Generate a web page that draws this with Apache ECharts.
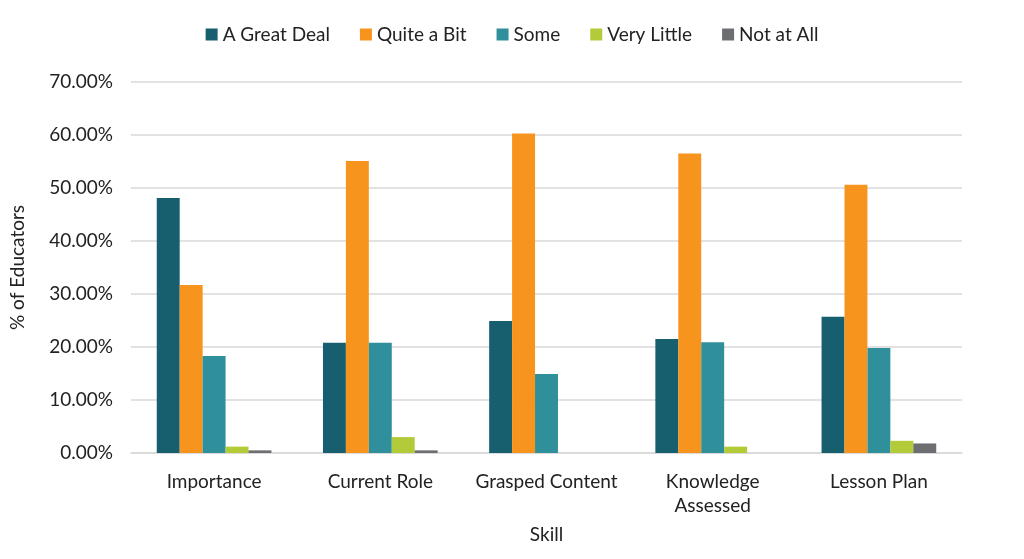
<!DOCTYPE html>
<html><head><meta charset="utf-8">
<script src="https://cdn.jsdelivr.net/npm/echarts@6/dist/echarts.min.js"></script>
<style>html,body{margin:0;padding:0;background:#fff}#c{width:1024px;height:559px}</style>
</head><body><div id="c"></div>
<script>
const categories = ['Importance','Current Role','Grasped Content','Knowledge Assessed','Lesson Plan'];
const seriesNames = ['A Great Deal','Quite a Bit','Some','Very Little','Not at All'];
const aGreatDeal = [48.1, 20.8, 24.9, 21.5, 25.7];
const quiteABit = [31.7, 55.1, 60.3, 56.5, 50.6];
const some = [18.3, 20.8, 14.9, 20.9, 19.8];
const veryLittle = [1.2, 3.0, 0, 1.2, 2.3];
const notAtAll = [0.5, 0.5, 0, 0, 1.8];
const colors = ['#175F6E','#F7941D','#2F8F9B','#B3CB38','#6D6E71'];
const font = 'Lato, "Open Sans", sans-serif';
const values = [aGreatDeal, quiteABit, some, veryLittle, notAtAll];
const chart = echarts.init(document.getElementById('c'));
chart.setOption({
  animation:false,
  color: colors,
  textStyle:{fontFamily:font},
  legend:{top:20, left:'center', itemWidth:12, itemHeight:12, itemGap:30, icon:'rect',
    textStyle:{fontSize:19, color:'#222', fontFamily:font}, data: seriesNames},
  grid:{left:131, right:62, top:82, bottom:106},
  xAxis:{type:'category', data:categories, name:'Skill', nameLocation:'middle', nameGap:72,
    nameTextStyle:{fontSize:19, color:'#222', fontFamily:font},
    axisTick:{show:false}, axisLine:{lineStyle:{color:'#d9d9d9', width:1.5}},
    axisLabel:{interval:0, fontSize:19, color:'#222', margin:17, lineHeight:24, fontFamily:font,
      formatter: v => v === 'Knowledge Assessed' ? 'Knowledge\nAssessed' : v}},
  yAxis:{type:'value', min:0, max:70, interval:10, name:'% of Educators', nameLocation:'middle', nameGap:104,
    nameTextStyle:{fontSize:19, color:'#222', fontFamily:font},
    axisLabel:{fontSize:19, color:'#222', margin:18, fontFamily:font, formatter: v => v.toFixed(2)+'%'},
    splitLine:{lineStyle:{color:'#d9d9d9', width:1.5}}, axisLine:{show:false}, axisTick:{show:false}},
  series: seriesNames.map((n,i)=>({name:n, type:'bar', data:values[i], barGap:'0%', barCategoryGap:'31%'}))
});
</script></body></html>
